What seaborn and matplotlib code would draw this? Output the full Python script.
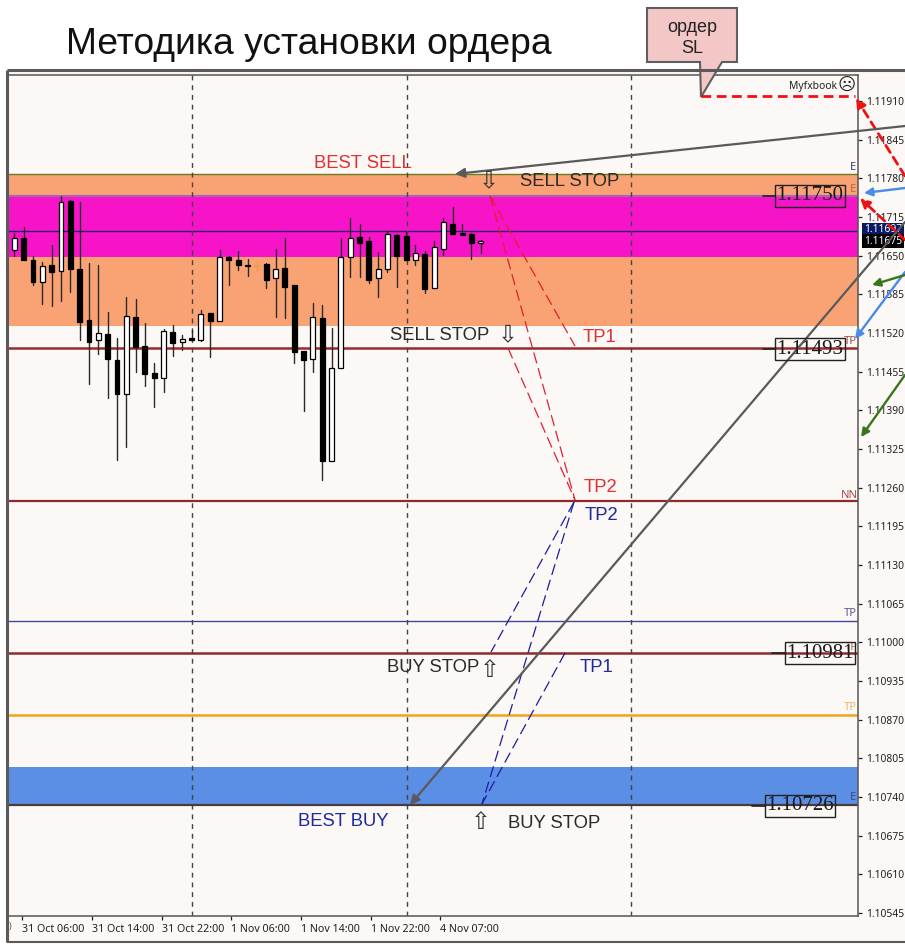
import numpy as np
import pandas as pd
import matplotlib
matplotlib.use("Agg")
import matplotlib.pyplot as plt
from matplotlib.patches import Polygon, Rectangle
import seaborn as sns

# candle data, prices in points (1.11680 -> 111680)
opens = [111659, 111680, 111642, 111606, 111635, 111624, 111742, 111628, 111542, 111508,
         111518, 111475, 111417, 111547, 111498, 111452, 111445, 111522, 111505, 111512,
         111509, 111553, 111541, 111648, 111642, 111635, 111634, 111636, 111612, 111630,
         111600, 111489, 111476, 111545, 111305, 111461, 111647, 111681, 111675, 111612,
         111628, 111685, 111683, 111643, 111653, 111596, 111661, 111704, 111688, 111686,
         111671]
closes = [111680, 111643, 111606, 111633, 111623, 111741, 111628, 111539, 111505, 111520,
          111476, 111417, 111549, 111496, 111451, 111444, 111524, 111504, 111510, 111509,
          111552, 111541, 111647, 111643, 111635, 111633, 111633, 111609, 111628, 111598,
          111488, 111474, 111547, 111305, 111461, 111647, 111680, 111672, 111609, 111628,
          111687, 111649, 111643, 111654, 111594, 111665, 111706, 111686, 111685, 111671,
          111675]
highs = [111688, 111699, 111649, 111640, 111668, 111750, 111744, 111740, 111638, 111634,
         111555, 111512, 111581, 111577, 111536, 111469, 111526, 111534, 111516, 111525,
         111559, 111553, 111660, 111649, 111658, 111645, 111643, 111637, 111662, 111680,
         111600, 111489, 111571, 111567, 111528, 111679, 111713, 111703, 111682, 111657,
         111692, 111686, 111692, 111668, 111658, 111675, 111714, 111731, 111704, 111688,
         111677]
lows = [111649, 111643, 111600, 111568, 111566, 111574, 111589, 111509, 111435, 111484,
        111411, 111307, 111329, 111454, 111431, 111396, 111421, 111482, 111491, 111508,
        111506, 111480, 111541, 111601, 111626, 111615, 111623, 111596, 111547, 111545,
        111470, 111389, 111454, 111273, 111305, 111461, 111614, 111614, 111604, 111580,
        111623, 111597, 111643, 111635, 111588, 111596, 111651, 111686, 111684, 111645,
        111655]

# price axis
price_ticks = [1.11910, 1.11845, 1.11780, 1.11715, 1.11650, 1.11585, 1.11520, 1.11455,
               1.11390, 1.11325, 1.11260, 1.11195, 1.11130, 1.11065, 1.11000, 1.10935,
               1.10870, 1.10805, 1.10740, 1.10675, 1.10610, 1.10545]
time_ticks = [0.83, 8.3, 15.8, 23.2, 30.7, 38.2, 45.6]
time_labels = ["31 Oct 06:00", "31 Oct 14:00", "31 Oct 22:00", "1 Nov 06:00",
               "1 Nov 14:00", "1 Nov 22:00", "4 Nov 07:00"]
day_lines = [19.05, 42.1, 66.1]

# zones and levels
orange_zone = (1.11532, 1.11787)
magenta_zone = (1.11648, 1.11750)
blue_zone = (1.10726, 1.10790)
level_prices = [1.11787, 1.11750, 1.11692, 1.11495, 1.11238, 1.11036, 1.10982, 1.10878, 1.10726]
level_colors = ["#6B7A22", "#A566B5", "#2A1A70", "#9A2A2E", "#8E2A2E", "#44449A", "#8E2A2E", "#F0A51E", "#4A3A3E"]
level_widths = [1.0, 1.5, 1.0, 1.8, 1.6, 1.0, 1.8, 1.8, 1.6]

sns.set_theme(style="white")
plt.rcParams['font.family'] = ['Noto Sans', 'DejaVu Sans']

bg = "#FBF8F5"
fig = plt.figure(figsize=(9.05, 9.44), dpi=100, facecolor="white")

# grey window behind the chart
back = fig.add_axes([0, 0, 1, 1], zorder=0)
back.set_xlim(0, 905)
back.set_ylim(944, 0)
back.axis("off")
back.add_patch(Rectangle((8, 70), 897, 872, facecolor=bg, edgecolor="none"))

ax = fig.add_axes([8 / 905, 1 - 916 / 944, 850 / 905, 841 / 944], zorder=1, facecolor=bg)
ax.set_xlim(-0.675, 90.43)
ax.set_ylim(1.10540, 1.119537)

ax.axhspan(*orange_zone, color="#F9A273", lw=0, zorder=1)
ax.axhspan(*magenta_zone, color="#F714C8", lw=0, zorder=1.1)
ax.axhspan(*blue_zone, color="#5B8FE6", lw=0, zorder=1)
for p, c, w in zip(level_prices, level_colors, level_widths):
    ax.axhline(p, color=c, lw=w, zorder=1.5)
for d in day_lines:
    ax.axvline(d, color="#444444", lw=1, ls=(0, (3.5, 3.5)), zorder=1.6)

# candles
candles = pd.DataFrame({"bar": np.arange(len(opens)), "open": opens, "close": closes,
                        "high": highs, "low": lows})
candles[["open", "close", "high", "low"]] /= 100000
candles["color"] = np.where(candles["close"] > candles["open"], "white", "black")
candles.loc[26, "color"] = "#F39A4C"

wicks = candles.melt(id_vars="bar", value_vars=["high", "low"], value_name="price")
wicks = wicks[wicks["bar"] != 26]
sns.lineplot(data=wicks, x="bar", y="price", units="bar", estimator=None, color="#2A2A2A",
             lw=1.0, ax=ax, legend=False, zorder=2)
ax.vlines(26, candles.loc[26, "low"], candles.loc[26, "high"], color="#F39A4C", lw=1, zorder=2)
ax.bar(candles["bar"], (candles["close"] - candles["open"]).abs(),
       bottom=candles[["open", "close"]].min(axis=1), width=0.52,
       color=candles["color"], edgecolor=["#F39A4C" if i == 26 else "black" for i in candles["bar"]],
       linewidth=0.9, zorder=3)

ax.set_xlabel("")
ax.set_ylabel("")
ax.yaxis.tick_right()
ax.set_yticks(price_ticks)
ax.set_yticklabels([f"{p:.5f}" for p in price_ticks])
ax.set_xticks(time_ticks)
ax.set_xticklabels(time_labels, ha="left")
ax.tick_params(axis="y", direction="out", length=3, width=0.9, pad=2.5, labelsize=7.4, colors="#222222", right=True)
ax.tick_params(axis="x", direction="out", length=3, width=0.9, pad=2.5, labelsize=7.7, colors="#222222", bottom=True)
for s in ax.spines.values():
    s.set_visible(False)
for s in ["right", "bottom", "top"]:
    ax.spines[s].set_visible(True)
    ax.spines[s].set_color("#555555")
    ax.spines[s].set_linewidth(1.1)

# annotation layer, drawn in picture pixels on top of the screenshot
top = fig.add_axes([0, 0, 1, 1], zorder=2, facecolor="none")
top.set_xlim(0, 905)
top.set_ylim(944, 0)
top.axis("off")

# window frame
top.plot([7, 7], [70, 942], color="#5A5A5A", lw=2.2, solid_capstyle="butt")
top.plot([7, 905], [70, 70], color="#5A5A5A", lw=2.2, solid_capstyle="butt")
top.plot([7, 905], [942, 942], color="#5A5A5A", lw=1.5, solid_capstyle="butt")

# end of the previous time label at the window edge
top.text(9, 927, ")", fontsize=6.5, color="#555555", ha="left", va="center")

top.text(66, 45, "Методика установки ордера", fontsize=26.8, family="Liberation Sans",
         color="#111111", va="center", ha="left")

# callout
top.add_patch(Polygon([(647, 8), (737, 8), (737, 62), (722, 62), (701, 97), (700, 62), (647, 62)],
                      closed=True, facecolor="#F4C7C7", edgecolor="#5F5F5F", lw=1.5))
top.text(692, 38, "ордер\nSL", fontsize=13, family="Liberation Sans", color="#222222",
         ha="center", va="center", linespacing=1.35)

# current price tags
top.text(883, 230, "1.11697", fontsize=7.4, color="white", ha="center", va="center",
         bbox=dict(facecolor="#0B1A66", edgecolor="none", pad=1.2))
top.text(883, 241, "1.11675", fontsize=7.4, color="white", ha="center", va="center",
         bbox=dict(facecolor="black", edgecolor="none", pad=1.2))

def arrow(x0, y0, x1, y1, color, lw=1.6, ls="-", size=13):
    top.annotate("", xy=(x1, y1), xytext=(x0, y0), annotation_clip=False,
                 arrowprops=dict(arrowstyle="-|>", color=color, lw=lw, ls=ls, mutation_scale=size,
                                 shrinkA=0, shrinkB=0))

# red stop loss route
top.plot([701, 855], [96, 96], color="#F01010", lw=2, ls=(0, (3.5, 2)))
arrow(905, 176, 856, 98, "#F01010", lw=2, ls=(0, (3, 2)), size=14)
arrow(905, 240, 860, 198, "#F01010", lw=2, ls=(0, (3, 2)), size=14)

# long grey arrows
arrow(905, 126, 455, 174, "#5A5A5A", lw=1.6, size=14)
arrow(905, 222, 410, 805, "#5A5A5A", lw=1.6, size=14)

# blue and green arrows at the right edge
arrow(905, 188, 864, 193, "#4A8BEA", lw=1.7, size=12)
arrow(905, 272, 855, 339, "#4A8BEA", lw=1.7, size=12)
arrow(905, 275, 872, 285, "#38761D", lw=1.7, size=12)
arrow(905, 375, 861, 437, "#38761D", lw=1.7, size=12)

# thin dashed order routes
red_routes = [((490, 196), (575, 346)), ((490, 196), (575, 500)), ((508, 348), (575, 500))]
blue_routes = [((574, 502), (491, 652)), ((574, 502), (482, 804)), ((565, 653), (482, 804))]
for (x0, y0), (x1, y1) in red_routes:
    top.plot([x0, x1], [y0, y1], color="#E02030", lw=0.9, ls=(0, (9, 4)))
for (x0, y0), (x1, y1) in blue_routes:
    top.plot([x0, x1], [y0, y1], color="#1C1CA0", lw=0.9, ls=(0, (9, 4)))

# chart labels
labels = [(314, 163, "BEST SELL", "#E03030"), (520, 181, "SELL STOP", "#2A2A2A"),
          (390, 335, "SELL STOP", "#2A2A2A"), (583, 338, "TP1", "#E03030"),
          (584, 487, "TP2", "#E03030"), (585, 515, "TP2", "#1E2A9A"),
          (387, 668, "BUY STOP", "#2A2A2A"), (580, 667, "TP1", "#1E2A9A"),
          (298, 822, "BEST BUY", "#1E2A9A"), (508, 823, "BUY STOP", "#2A2A2A")]
for x, y, s, c in labels:
    top.text(x, y, s, fontsize=13.3, family="Liberation Sans", color=c, ha="left", va="center")

# hollow arrows
hollow = [(489, 180, "\u21E9"), (508, 334, "\u21E9"), (490, 670, "\u21E7"), (481, 822, "\u21E7")]
for x, y, s in hollow:
    top.text(x, y, s, fontsize=17, family="DejaVu Sans", color="#333333", ha="center", va="center")

# small level tags
tags = [(853, 167, "E", "#3A3A7A"), (853, 189, "E", "#C0604A"), (850, 342, "TP", "#A05050"),
        (849, 495, "NN", "#A04A50"), (850, 613, "TP", "#5A5A90"), (851, 647, "TP", "#A07070"),
        (850, 708, "TP", "#F4B860"), (853, 798, "E", "#3A4A7A")]
for x, y, s, c in tags:
    top.text(x, y, s, fontsize=8, color=c, ha="center", va="center")

# boxed price callouts
boxes = [(810, 196, "1.11750", 763, 775), (810, 349, "1.11493", 763, 775),
         (820, 653, "1.10981", 772, 785), (800, 806, "1.10726", 752, 765)]
for x, y, s, d0, d1 in boxes:
    top.plot([d0, d1], [y, y], color="#222222", lw=1.2)
    top.text(x, y, s, fontsize=15, family="Liberation Serif", color="#1A1A1A", ha="center", va="center",
             bbox=dict(facecolor="none", edgecolor="#222222", lw=1, boxstyle="square,pad=0.08"))

top.text(813, 86, "Myfxbook", fontsize=7.4, color="#222222", ha="center", va="center")
top.text(847, 85, "\u2639", fontsize=12.5, family="DejaVu Sans", color="#222222", ha="center", va="center")

fig.savefig("out.png", dpi=100)
